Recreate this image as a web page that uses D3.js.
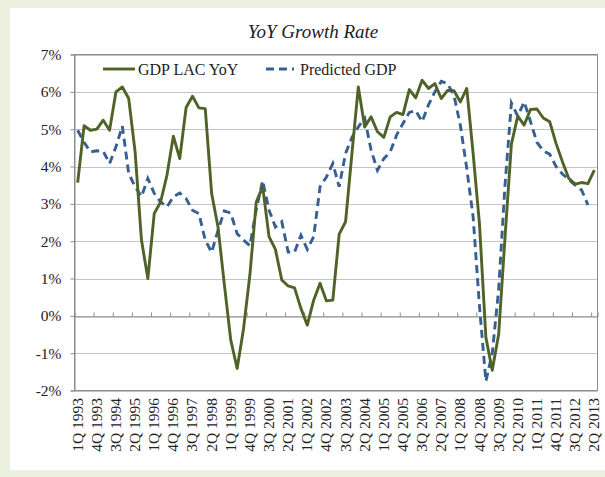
<!DOCTYPE html>
<html>
<head>
<meta charset="utf-8">
<script src="https://cdn.jsdelivr.net/npm/d3@7"></script>
<style>
  body { margin: 0; background: #ebf1de; }
  svg { display: block; }
  text { font-family: "Liberation Serif", "DejaVu Serif", serif; fill: #222; }
</style>
</head>
<body>
<div id="chart"></div>
<script>
// Quarterly categories, 1Q 1993 .. 2Q 2013
const quarters = [
  "1Q 1993","2Q 1993","3Q 1993","4Q 1993",
  "1Q 1994","2Q 1994","3Q 1994","4Q 1994",
  "1Q 1995","2Q 1995","3Q 1995","4Q 1995",
  "1Q 1996","2Q 1996","3Q 1996","4Q 1996",
  "1Q 1997","2Q 1997","3Q 1997","4Q 1997",
  "1Q 1998","2Q 1998","3Q 1998","4Q 1998",
  "1Q 1999","2Q 1999","3Q 1999","4Q 1999",
  "1Q 2000","2Q 2000","3Q 2000","4Q 2000",
  "1Q 2001","2Q 2001","3Q 2001","4Q 2001",
  "1Q 2002","2Q 2002","3Q 2002","4Q 2002",
  "1Q 2003","2Q 2003","3Q 2003","4Q 2003",
  "1Q 2004","2Q 2004","3Q 2004","4Q 2004",
  "1Q 2005","2Q 2005","3Q 2005","4Q 2005",
  "1Q 2006","2Q 2006","3Q 2006","4Q 2006",
  "1Q 2007","2Q 2007","3Q 2007","4Q 2007",
  "1Q 2008","2Q 2008","3Q 2008","4Q 2008",
  "1Q 2009","2Q 2009","3Q 2009","4Q 2009",
  "1Q 2010","2Q 2010","3Q 2010","4Q 2010",
  "1Q 2011","2Q 2011","3Q 2011","4Q 2011",
  "1Q 2012","2Q 2012","3Q 2012","4Q 2012",
  "1Q 2013","2Q 2013"
];

// GDP LAC YoY (%)
const gdpLac = [
  3.57, 5.09, 4.97, 5.00, 5.24, 4.97, 6.00, 6.13, 5.82, 4.40,
  2.03, 1.00, 2.74, 3.05, 3.77, 4.81, 4.21, 5.58, 5.88, 5.57,
  5.55, 3.28, 2.38, 0.83, -0.65, -1.41, -0.35, 1.10, 3.05, 3.46,
  2.12, 1.78, 0.96, 0.80, 0.75, 0.20, -0.25, 0.42, 0.87, 0.40,
  0.42, 2.19, 2.52, 4.35, 6.13, 5.06, 5.33, 4.93, 4.78, 5.33,
  5.45, 5.39, 6.06, 5.84, 6.31, 6.09, 6.22, 5.82, 6.04, 6.03,
  5.73, 6.09, 4.35, 2.45, -0.58, -1.46, -0.50, 2.10, 4.60, 5.35,
  5.11, 5.53, 5.54, 5.30, 5.20, 4.62, 4.13, 3.68, 3.53, 3.57,
  3.54, 3.90
];

// Predicted GDP (%), ends one quarter earlier
const predicted = [
  4.97, 4.65, 4.39, 4.42, 4.41, 4.08, 4.53, 5.08, 3.81, 3.46,
  3.19, 3.68, 3.28, 3.05, 2.92, 3.19, 3.29, 3.14, 2.83, 2.74,
  2.03, 1.70, 2.29, 2.81, 2.75, 2.20, 2.03, 1.88, 2.85, 3.62,
  2.83, 2.38, 2.52, 1.71, 1.71, 2.16, 1.78, 2.12, 3.46, 3.72,
  4.08, 3.46, 4.35, 4.78, 5.06, 5.29, 4.44, 3.90, 4.21, 4.39,
  4.84, 5.15, 5.45, 5.50, 5.20, 5.65, 6.00, 6.28, 6.22, 5.90,
  5.10, 3.95, 2.65, 0.25, -1.75, -1.00, 0.70, 3.50, 5.70, 5.35,
  5.73, 5.20, 4.65, 4.42, 4.33, 4.00, 3.80, 3.65, 3.50, 3.37,
  2.97
];

const yTicks = [-2, -1, 0, 1, 2, 3, 4, 5, 6, 7];
const labelEvery = 3;

const width = 605, height = 477;
const plot = { left: 74.5, right: 597.5, top: 54.5, bottom: 390.5 };

const svg = d3.select("#chart").append("svg")
  .attr("width", width)
  .attr("height", height);

// white chart panel
svg.append("rect")
  .attr("x", 10).attr("y", 8)
  .attr("width", width - 10).attr("height", 462)
  .attr("fill", "#fff");

const x = d3.scaleBand()
  .domain(quarters)
  .range([plot.left, plot.right])
  .padding(0);

// boundaries between categories, for the tick marks
const xEdge = d3.scaleLinear()
  .domain([0, quarters.length])
  .range([plot.left, plot.right]);

const y = d3.scaleLinear()
  .domain([-2, 7])
  .range([plot.bottom, plot.top]);

const cx = q => x(q) + x.bandwidth() / 2;

// gridlines
svg.append("g")
  .selectAll("line")
  .data(yTicks)
  .join("line")
  .attr("x1", plot.left).attr("x2", plot.right)
  .attr("y1", d => Math.round(y(d)) + 0.5)
  .attr("y2", d => Math.round(y(d)) + 0.5)
  .attr("stroke", "#c4c4c4");

// plot border
svg.append("rect")
  .attr("x", plot.left).attr("y", plot.top)
  .attr("width", plot.right - plot.left)
  .attr("height", plot.bottom - plot.top)
  .attr("fill", "none")
  .attr("stroke", "#8c8c8c");

// y axis
const yAxis = svg.append("g")
  .attr("transform", `translate(${plot.left},0)`)
  .call(d3.axisLeft(y).tickValues(yTicks).tickSize(4).tickPadding(9)
    .tickFormat(d => d + "%"));
yAxis.select(".domain").attr("stroke", "#8c8c8c");
yAxis.selectAll(".tick line").attr("stroke", "#8c8c8c");
yAxis.selectAll("text")
  .style("font-size", "15.5px")
  .attr("fill", "#333");

// x axis line at 0% with tick marks between categories
const xAxis = svg.append("g")
  .attr("transform", `translate(0,${Math.round(y(0)) + 0.5})`)
  .call(d3.axisTop(xEdge)
    .tickValues(d3.range(labelEvery, quarters.length, labelEvery))
    .tickSize(4)
    .tickFormat(""));
xAxis.select(".domain").attr("stroke", "#8c8c8c");
xAxis.selectAll(".tick line").attr("stroke", "#8c8c8c");

// category labels, every 3rd quarter
svg.append("g")
  .selectAll("text")
  .data(quarters.filter((q, i) => i % labelEvery === 0))
  .join("text")
  .attr("transform", d => `translate(${cx(d) + 5},398) rotate(-90)`)
  .attr("text-anchor", "end")
  .style("font-size", "15.5px")
  .attr("fill", "#333")
  .text(d => d);

// series lines
const line = d3.line()
  .x((d, i) => cx(quarters[i]))
  .y(d => y(d));

svg.append("path")
  .datum(predicted)
  .attr("d", line)
  .attr("fill", "none")
  .attr("stroke", "#376092")
  .attr("stroke-width", 2.9)
  .attr("stroke-dasharray", "8,5");

svg.append("path")
  .datum(gdpLac)
  .attr("d", line)
  .attr("fill", "none")
  .attr("stroke", "#4f6228")
  .attr("stroke-width", 2.9)
  .attr("stroke-linejoin", "round");

// title
svg.append("text")
  .attr("x", 313).attr("y", 38)
  .attr("text-anchor", "middle")
  .style("font-size", "19px")
  .style("font-style", "italic")
  .text("YoY Growth Rate");

// legend
const legend = svg.append("g");
legend.append("line")
  .attr("x1", 103).attr("x2", 135).attr("y1", 69).attr("y2", 69)
  .attr("stroke", "#4f6228").attr("stroke-width", 2.9);
legend.append("text")
  .attr("x", 138).attr("y", 74.5)
  .style("font-size", "16px")
  .text("GDP LAC YoY");
legend.append("line")
  .attr("x1", 266).attr("x2", 294).attr("y1", 69).attr("y2", 69)
  .attr("stroke", "#376092").attr("stroke-width", 2.9)
  .attr("stroke-dasharray", "8,5");
legend.append("text")
  .attr("x", 300).attr("y", 74.5)
  .style("font-size", "16px")
  .text("Predicted GDP");
</script>
</body>
</html>
